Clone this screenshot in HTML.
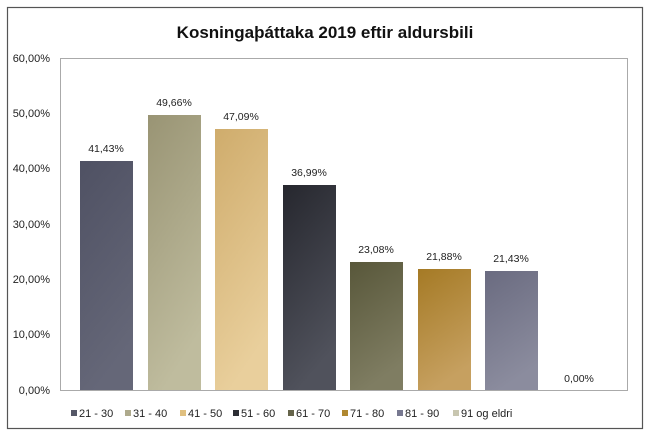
<!DOCTYPE html>
<html><head><meta charset="utf-8"><style>
body{margin:0;background:#fff;}
svg{display:block;font-family:"Liberation Sans",sans-serif;}
</style></head><body>
<svg width="650" height="444" viewBox="0 0 650 444">
<defs>
<linearGradient id="g1" x1="0" y1="0" x2="0.3" y2="1"><stop offset="0" stop-color="#4f5163"/><stop offset="1" stop-color="#656778"/></linearGradient>
<linearGradient id="g2" x1="0" y1="0" x2="0.3" y2="1"><stop offset="0" stop-color="#999474"/><stop offset="1" stop-color="#bfbc9e"/></linearGradient>
<linearGradient id="g3" x1="0" y1="0" x2="0.3" y2="1"><stop offset="0" stop-color="#cfac6c"/><stop offset="1" stop-color="#e9cf9c"/></linearGradient>
<linearGradient id="g4" x1="0" y1="0" x2="0.3" y2="1"><stop offset="0" stop-color="#26272e"/><stop offset="1" stop-color="#50525c"/></linearGradient>
<linearGradient id="g5" x1="0" y1="0" x2="0.3" y2="1"><stop offset="0" stop-color="#58573a"/><stop offset="1" stop-color="#7f7d62"/></linearGradient>
<linearGradient id="g6" x1="0" y1="0" x2="0.3" y2="1"><stop offset="0" stop-color="#a57a25"/><stop offset="1" stop-color="#c6a060"/></linearGradient>
<linearGradient id="g7" x1="0" y1="0" x2="0.3" y2="1"><stop offset="0" stop-color="#6a6b80"/><stop offset="1" stop-color="#8b8c9e"/></linearGradient>
</defs>
<rect x="7.5" y="7.5" width="635" height="421" fill="#fff" stroke="#555" stroke-width="1.2"/>
<text x="325" y="38" text-anchor="middle" font-size="17" font-weight="bold" fill="#111">Kosningaþáttaka 2019 eftir aldursbili</text>
<rect x="60.5" y="58.5" width="567" height="332" fill="#fff" stroke="#aaa"/>
<g font-size="11" fill="#222" text-anchor="end">
<text x="50" y="62">60,00%</text><text x="50" y="117">50,00%</text><text x="50" y="172">40,00%</text><text x="50" y="228">30,00%</text><text x="50" y="283">20,00%</text><text x="50" y="338">10,00%</text><text x="50" y="394">0,00%</text>
</g>
<rect x="80" y="161" width="53" height="229" fill="url(#g1)"/>
<rect x="148" y="115" width="53" height="275" fill="url(#g2)"/>
<rect x="215" y="129" width="53" height="261" fill="url(#g3)"/>
<rect x="283" y="185" width="53" height="205" fill="url(#g4)"/>
<rect x="350" y="262" width="53" height="128" fill="url(#g5)"/>
<rect x="418" y="269" width="53" height="121" fill="url(#g6)"/>
<rect x="485" y="271" width="53" height="119" fill="url(#g7)"/>
<g font-size="10.5" fill="#222" text-anchor="middle">
<text x="106" y="152">41,43%</text><text x="174" y="106">49,66%</text><text x="241" y="120">47,09%</text><text x="309" y="176">36,99%</text><text x="376" y="253">23,08%</text><text x="444" y="260">21,88%</text><text x="511" y="262">21,43%</text><text x="579" y="382">0,00%</text>
</g>
<g font-size="11" fill="#222">
<rect x="71" y="410" width="6" height="6" fill="#555767"/><text x="79" y="417">21 - 30</text>
<rect x="125" y="410" width="6" height="6" fill="#aeaa8c"/><text x="133" y="417">31 - 40</text>
<rect x="180" y="410" width="6" height="6" fill="#e0c080"/><text x="188" y="417">41 - 50</text>
<rect x="233" y="410" width="6" height="6" fill="#2c2d34"/><text x="241" y="417">51 - 60</text>
<rect x="288" y="410" width="6" height="6" fill="#65644a"/><text x="296" y="417">61 - 70</text>
<rect x="342" y="410" width="6" height="6" fill="#b08830"/><text x="350" y="417">71 - 80</text>
<rect x="397" y="410" width="6" height="6" fill="#777890"/><text x="405" y="417">81 - 90</text>
<rect x="453" y="410" width="6" height="6" fill="#c8c6b0"/><text x="461" y="417">91 og eldri</text>
</g>
</svg>
</body></html>
